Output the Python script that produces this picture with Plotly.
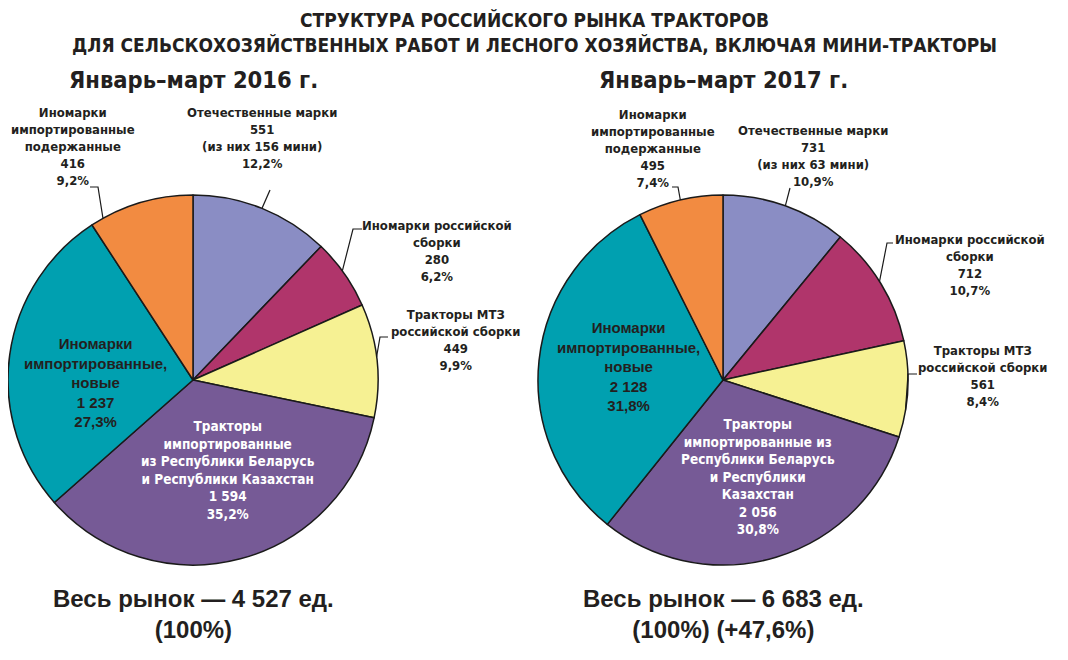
import math
import plotly.graph_objects as go

# ---- data ----
segments = ["Отечественные марки", "Иномарки российской сборки", "Тракторы МТЗ российской сборки",
            "Тракторы импортированные из Республики Беларусь и Республики Казахстан",
            "Иномарки импортированные, новые", "Иномарки импортированные подержанные"]
values_2016 = [551, 280, 449, 1594, 1237, 416]
values_2017 = [731, 712, 561, 2056, 2128, 495]
pct_2016 = ["12,2%", "6,2%", "9,9%", "35,2%", "27,3%", "9,2%"]
pct_2017 = ["10,9%", "10,7%", "8,4%", "30,8%", "31,8%", "7,4%"]
mini_2016 = 156
mini_2017 = 63
total_2016 = "4 527"
total_2017 = "6 683"
growth = "+47,6%"

colors = ["#8A8DC4", "#B0356B", "#F6F193", "#765A96", "#00A0B0", "#F28B41"]

W, H = 1068, 660
OFF = 8  # page body margin
R = 185
CY = 380
CX = [193, 723]

NARROW = "Liberation Sans Narrow, Arial Narrow, DejaVu Sans Condensed, sans-serif"
WIDE = "Liberation Sans, Arial, Helvetica, sans-serif"
INK = "#231F20"


def px(x):
    return (x - OFF) / W


def py(y):
    return 1 - (y - OFF) / H


def fmt(v):
    return f"{v:,}".replace(",", " ")


def edge_point(values, idx, frac, cx):
    tot = sum(values)
    start = sum(values[:idx]) / tot * 360
    ang = math.radians(start + frac * values[idx] / tot * 360)
    return cx + R * math.sin(ang), CY - R * math.cos(ang)


fig = go.Figure()
for i, vals in enumerate([values_2016, values_2017]):
    fig.add_trace(go.Pie(
        values=vals, labels=segments, sort=False, direction="clockwise", rotation=0,
        marker=dict(colors=colors, line=dict(color="#1a1a1a", width=1.5)),
        textinfo="none", hoverinfo="skip", showlegend=False,
        domain=dict(x=[px(CX[i] - R), px(CX[i] + R)], y=[py(CY + R), py(CY - R)]),
    ))

ann = []


def label(text, x, y, size=13, color=INK, family=NARROW):
    ann.append(dict(text=text, x=px(x), y=py(y), xref="paper", yref="paper",
                    xanchor="center", yanchor="middle", showarrow=False,
                    font=dict(family=family, size=size, color=color, weight="bold")))


shapes = []


def leader(values, idx, frac, cx, pts):
    ex, ey = edge_point(values, idx, frac, cx)
    path = f"M {px(ex)},{py(ey)}"
    for (x, y) in pts:
        path += f" L {px(x)},{py(y)}"
    shapes.append(dict(type="path", path=path, xref="paper", yref="paper",
                       line=dict(color="#1a1a1a", width=1.2)))


# title
label("СТРУКТУРА РОССИЙСКОГО РЫНКА ТРАКТОРОВ<br>"
      "ДЛЯ СЕЛЬСКОХОЗЯЙСТВЕННЫХ РАБОТ И ЛЕСНОГО ХОЗЯЙСТВА, ВКЛЮЧАЯ МИНИ-ТРАКТОРЫ",
      534, 33, size=19)
label("Январь–март 2016 г.", 193, 80, size=23.5)
label("Январь–март 2017 г.", 723, 80, size=23.5)

# 2016 labels
v, p = values_2016, pct_2016
label(f"Отечественные марки<br>{fmt(v[0])}<br>(из них {mini_2016} мини)<br>{p[0]}", 262, 138)
leader(v, 0, 0.5, CX[0], [(270, 190)])
label(f"Иномарки российской<br>сборки<br>{fmt(v[1])}<br>{p[1]}", 437, 251)
leader(v, 1, 0.45, CX[0], [(353, 229), (362, 229)])
label(f"Тракторы МТЗ<br>российской сборки<br>{fmt(v[2])}<br>{p[2]}", 455, 340)
leader(v, 2, 0.47, CX[0], [(380, 337), (388, 337)])
label(f"Тракторы<br>импортированные<br>из Республики Беларусь<br>и Республики Казахстан<br>{fmt(v[3])}<br>{p[3]}",
      228, 470, size=13.5, color="white")
label(f"Иномарки<br>импортированные,<br>новые<br>{fmt(v[4])}<br>{p[4]}", 95, 382, size=15, family=WIDE)
label(f"Иномарки<br>импортированные<br>подержанные<br>{fmt(v[5])}<br>{p[5]}", 73, 147)
leader(v, 5, 0.12, CX[0], [(98, 187), (90, 187)])

# 2017 labels
v, p = values_2017, pct_2017
label(f"Отечественные марки<br>{fmt(v[0])}<br>(из них {mini_2017} мини)<br>{p[0]}", 813, 156)
leader(v, 0, 0.5, CX[1], [(790, 188)])
label(f"Иномарки российской<br>сборки<br>{fmt(v[1])}<br>{p[1]}", 970, 265)
leader(v, 1, 0.48, CX[1], [(887, 243), (893, 243)])
label(f"Тракторы МТЗ<br>российской сборки<br>{fmt(v[2])}<br>{p[2]}", 982, 376)
leader(v, 2, 0.72, CX[1], [(908, 374), (917, 374)])
label(f"Тракторы<br>импортированные из<br>Республики Беларусь<br>и Республики<br>Казахстан<br>{fmt(v[3])}<br>{p[3]}",
      758, 476, size=13.5, color="white")
label(f"Иномарки<br>импортированные,<br>новые<br>{fmt(v[4])}<br>{p[4]}", 628, 366, size=15, family=WIDE)
label(f"Иномарки<br>импортированные<br>подержанные<br>{fmt(v[5])}<br>{p[5]}", 653, 148)
leader(v, 5, 0.5, CX[1], [(678, 187), (672, 187)])

# totals
label(f"Весь рынок — {total_2016} ед.<br>(100%)", 193, 614, size=24, family=WIDE)
label(f"Весь рынок — {total_2017} ед.<br>(100%) ({growth})", 723, 614, size=24, family=WIDE)

fig.update_layout(
    width=W, height=H, margin=dict(l=0, r=0, t=0, b=0),
    paper_bgcolor="white", plot_bgcolor="white",
    annotations=ann, shapes=shapes,
)

fig.write_html("out.html")
